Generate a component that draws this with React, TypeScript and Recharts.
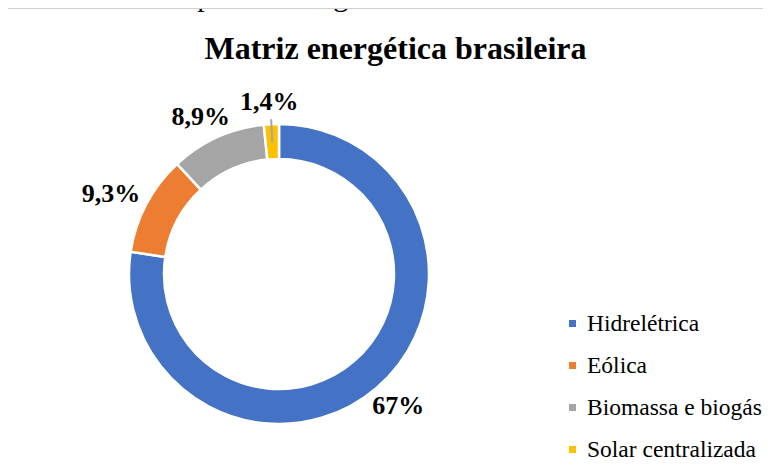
import { PieChart, Pie, Cell, Legend } from 'recharts';

const categories = ['Hidrelétrica', 'Eólica', 'Biomassa e biogás', 'Solar centralizada'];
const values = [67, 9.3, 8.9, 1.4];
const labels = ['67%', '9,3%', '8,9%', '1,4%'];
const colors = ['#4472C4', '#ED7D31', '#A5A5A5', '#FFC000'];

const data = categories.map((name, i) => ({ name, value: values[i], label: labels[i] }));

const RAD = Math.PI / 180;
const serif = '"Liberation Serif", "Times New Roman", serif';

// label box is pushed outward so its nearest edge sits a fixed gap off the ring
function renderLabel(props: any) {
  const { cx, cy, midAngle, outerRadius, index } = props;
  const text = labels[index];
  const w = text.length * 14.5;
  const h = 24;
  const c = Math.cos(-midAngle * RAD);
  const s = Math.sin(-midAngle * RAD);
  const r = outerRadius + 11;
  const x = cx + r * c + (w / 2) * c;
  const y = cy + r * s + (h / 2) * s;
  return (
    <text
      x={x}
      y={y}
      textAnchor="middle"
      dominantBaseline="central"
      fontFamily={serif}
      fontWeight="bold"
      fontSize={26}
      fill="#000"
    >
      {text}
    </text>
  );
}

function renderLabelLine(props: any) {
  const { cx, cy, midAngle, outerRadius, percent } = props;
  // only the tiny slice gets a leader line
  if (percent > 0.03) return <g />;
  const a = -midAngle * RAD;
  const r1 = outerRadius - 18;
  const r2 = outerRadius + 5;
  return (
    <line
      x1={cx + r1 * Math.cos(a)}
      y1={cy + r1 * Math.sin(a)}
      x2={cx + r2 * Math.cos(a)}
      y2={cy + r2 * Math.sin(a)}
      stroke="#A5A5A5"
      strokeWidth={2}
    />
  );
}

function renderLegend() {
  return (
    <div style={{ fontFamily: serif, fontSize: 23.5, color: '#000' }}>
      {data.map((d, i) => (
        <div key={d.name} style={{ display: 'flex', alignItems: 'center', height: 42, whiteSpace: 'nowrap' }}>
          <span
            style={{ width: 7, height: 7, background: colors[i], display: 'inline-block', marginRight: 11, flexShrink: 0 }}
          />
          <span>{d.name}</span>
        </div>
      ))}
    </div>
  );
}

export default function App() {
  return (
    <div style={{ position: 'relative', width: 771, height: 475, margin: -8, background: '#fff', overflow: 'hidden' }}>
      {/* caption of the document, cut off at the top */}
      <div
        style={{
          position: 'absolute',
          left: 28,
          top: -21,
          fontFamily: serif,
          fontSize: 30,
          lineHeight: '34px',
          whiteSpace: 'nowrap',
          color: '#000',
        }}
      >
        Gráfico 1 – Tipos de energia utilizadas no Brasil
      </div>
      <div
        style={{
          position: 'absolute',
          left: 5,
          top: 8,
          width: 780,
          height: 480,
          border: '1.5px solid #D0D0D0',
          boxSizing: 'border-box',
          background: 'transparent',
        }}
      />
      <div
        style={{
          position: 'absolute',
          left: 0,
          top: 29,
          width: 771,
          textAlign: 'center',
          fontFamily: serif,
          fontWeight: 'bold',
          fontSize: 32,
          lineHeight: '38px',
          color: '#000',
          paddingLeft: 20,
          boxSizing: 'border-box',
          whiteSpace: 'nowrap',
        }}
      >
        Matriz energética brasileira
      </div>
      <div style={{ position: 'absolute', left: 0, top: 0 }}>
        <PieChart width={771} height={475} margin={{ top: 0, right: 0, bottom: 0, left: 0 }}>
          <Pie
            data={data}
            dataKey="value"
            nameKey="name"
            cx={279}
            cy={274}
            innerRadius={115}
            outerRadius={150}
            startAngle={90}
            endAngle={-270}
            stroke="#fff"
            strokeWidth={2.5}
            label={renderLabel}
            labelLine={renderLabelLine}
            isAnimationActive={false}
          >
            {data.map((_, i) => (
              <Cell key={`cell-${i}`} fill={colors[i]} />
            ))}
          </Pie>
          <Legend
            content={renderLegend}
            wrapperStyle={{ position: 'absolute', left: 569, top: 302, width: 200 }}
          />
        </PieChart>
      </div>
    </div>
  );
}
